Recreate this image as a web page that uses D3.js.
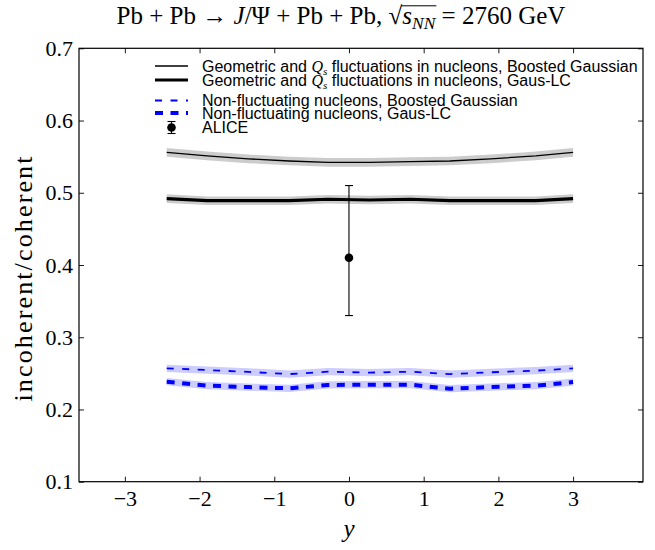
<!DOCTYPE html>
<html><head><meta charset="utf-8">
<script src="https://cdn.jsdelivr.net/npm/d3@7"></script>
<style>body{margin:0;background:#fff}</style>
</head><body><svg id="c" width="655" height="550"></svg>
<script>
// ---- data ----
const rapidity = [-2.44, -1.9, -1.35, -0.8, -0.28, 0.27, 0.82, 1.35, 1.9, 2.5, 3.0];
const geoBoosted = [0.556, 0.551, 0.547, 0.544, 0.542, 0.542, 0.543, 0.544, 0.547, 0.551, 0.556];
const geoGausLC  = [0.492, 0.489, 0.489, 0.489, 0.491, 0.490, 0.491, 0.489, 0.489, 0.489, 0.492];
const nonBoosted = [0.257, 0.2546, 0.252, 0.249, 0.2523, 0.251, 0.2523, 0.249, 0.2515, 0.2537, 0.257];
const nonGausLC  = [0.2385, 0.233, 0.231, 0.2293, 0.2339, 0.2343, 0.2343, 0.2288, 0.231, 0.233, 0.238];
const bandHalf   = [0.006, 0.006, 0.005, 0.005];
const aliceX = [0], aliceY = [0.41], aliceLo = [0.33], aliceHi = [0.51];
const xTicks = [-3, -2, -1, 0, 1, 2, 3];
const yTicks = [0.1, 0.2, 0.3, 0.4, 0.5, 0.6, 0.7];
const xDomain = [-3.614, 3.936];
const yDomain = [0.1, 0.7];
const legendLabels = [
  ["Geometric and ", "Q", "s", " fluctuations in nucleons, Boosted Gaussian"],
  ["Geometric and ", "Q", "s", " fluctuations in nucleons, Gaus-LC"],
  ["Non-fluctuating nucleons, Boosted Gaussian"],
  ["Non-fluctuating nucleons, Gaus-LC"],
  ["ALICE"]
];

// ---- layout ----
const L = 79, R = 643, T = 48.3, B = 481.7;
const svg = d3.select("#c");
const x = d3.scaleLinear().domain(xDomain).range([L, R]);
const y = d3.scaleLinear().domain(yDomain).range([B, T]);
const serif = "'Liberation Serif', 'Times New Roman', serif";
const sans = "'Liberation Sans', Arial, sans-serif";

const series = [
  {v: geoBoosted, color: "#000", band: "#cccccc", w: 1.3, dash: null},
  {v: geoGausLC,  color: "#000", band: "#cccccc", w: 3.2, dash: null},
  {v: nonBoosted, color: "#0000ff", band: "#ccccff", w: 1.8, dash: "7,8.5"},
  {v: nonGausLC,  color: "#0000ff", band: "#ccccff", w: 4, dash: "8,7.5"}
];

series.forEach((s, i) => {
  const pts = rapidity.map((r, j) => ({r, v: s.v[j]}));
  const area = d3.area().x(d => x(d.r)).y0(d => y(d.v - bandHalf[i])).y1(d => y(d.v + bandHalf[i]));
  svg.append("path").datum(pts).attr("d", area).attr("fill", s.band);
});
series.forEach((s, i) => {
  const pts = rapidity.map((r, j) => ({r, v: s.v[j]}));
  const line = d3.line().x(d => x(d.r)).y(d => y(d.v));
  svg.append("path").datum(pts).attr("d", line).attr("fill", "none")
    .attr("stroke", s.color).attr("stroke-width", s.w)
    .attr("stroke-dasharray", s.dash);
});

// ALICE
aliceX.forEach((ax, i) => {
  const g = svg.append("g").attr("stroke", "#000").attr("stroke-width", 1.1);
  g.append("line").attr("x1", x(ax)).attr("x2", x(ax)).attr("y1", y(aliceLo[i])).attr("y2", y(aliceHi[i]));
  g.append("line").attr("x1", x(ax) - 4).attr("x2", x(ax) + 4).attr("y1", y(aliceLo[i])).attr("y2", y(aliceLo[i]));
  g.append("line").attr("x1", x(ax) - 4).attr("x2", x(ax) + 4).attr("y1", y(aliceHi[i])).attr("y2", y(aliceHi[i]));
  svg.append("circle").attr("cx", x(ax)).attr("cy", y(aliceY[i])).attr("r", 4.3).attr("fill", "#000");
});

// axes
function styleAxis(g) {
  g.select(".domain").remove();
  g.selectAll(".tick line").attr("stroke", "#000").attr("stroke-width", 0.9);
  g.selectAll(".tick text").attr("font-family", serif).attr("font-size", 22).attr("fill", "#000");
}
svg.append("g").attr("transform", `translate(0,${B})`)
  .call(d3.axisBottom(x).tickValues(xTicks).tickFormat(d3.format("d")).tickSize(-5).tickPadding(9)).call(styleAxis);
svg.append("g").attr("transform", `translate(0,${T})`)
  .call(d3.axisTop(x).tickValues(xTicks).tickFormat("").tickSize(-5)).call(styleAxis);
svg.append("g").attr("transform", `translate(${L},0)`)
  .call(d3.axisLeft(y).tickValues(yTicks).tickFormat(d3.format(".1f")).tickSize(-5).tickPadding(6)).call(styleAxis);
svg.append("g").attr("transform", `translate(${R},0)`)
  .call(d3.axisRight(y).tickValues(yTicks).tickFormat("").tickSize(-5)).call(styleAxis);
svg.append("rect").attr("x", L).attr("y", T).attr("width", R - L).attr("height", B - T)
  .attr("fill", "none").attr("stroke", "#000").attr("stroke-width", 1.2);

// axis labels
svg.append("text").attr("x", x(0)).attr("y", 537).attr("text-anchor", "middle")
  .attr("font-family", serif).attr("font-style", "italic").attr("font-size", 25).text("y");
svg.append("text").attr("transform", "translate(32,279) rotate(-90)").attr("text-anchor", "middle")
  .attr("font-family", serif).attr("font-size", 26)
  .attr("textLength", 245).attr("lengthAdjust", "spacing").text("incoherent/coherent");

// title
const title = svg.append("text").attr("x", 341).attr("y", 24).attr("text-anchor", "middle")
  .attr("font-family", serif).attr("font-size", 25);
title.append("tspan").text("Pb + Pb \u2192 ");
title.append("tspan").attr("font-style", "italic").text("J");
title.append("tspan").text("/\u03A8 + Pb + Pb, \u221A");
const tS = title.append("tspan").attr("font-style", "italic").text("s");
const tNN = title.append("tspan").attr("font-style", "italic").attr("font-size", 17.5).attr("dy", 5).text("NN");
title.append("tspan").attr("dy", -5).text(" = 2760 GeV");
{
  const x0 = tS.node().getStartPositionOfChar(0).x;
  const x1 = tNN.node().getEndPositionOfChar(1).x;
  svg.append("line").attr("x1", x0 - 1).attr("x2", x1 + 1).attr("y1", 5.8).attr("y2", 5.8)
    .attr("stroke", "#000").attr("stroke-width", 1);
}

// legend
const legRowsY = [66, 80, 100.5, 113, 127.5];
const legX0 = 155, legX1 = 188, legTx = 202;
legendLabels.forEach((parts, i) => {
  const yy = legRowsY[i];
  if (i < 4) {
    const s = series[i];
    svg.append("line").attr("x1", legX0).attr("x2", legX1).attr("y1", yy).attr("y2", yy)
      .attr("stroke", s.color).attr("stroke-width", s.w).attr("stroke-dasharray", s.dash);
  } else {
    const cx = (legX0 + legX1) / 2;
    svg.append("line").attr("x1", cx).attr("x2", cx).attr("y1", yy - 6).attr("y2", yy + 6).attr("stroke", "#000").attr("stroke-width", 1.1);
    svg.append("line").attr("x1", cx - 4).attr("x2", cx + 4).attr("y1", yy - 6).attr("y2", yy - 6).attr("stroke", "#000").attr("stroke-width", 1.1);
    svg.append("line").attr("x1", cx - 4).attr("x2", cx + 4).attr("y1", yy + 6).attr("y2", yy + 6).attr("stroke", "#000").attr("stroke-width", 1.1);
    svg.append("circle").attr("cx", cx).attr("cy", yy).attr("r", 4.3).attr("fill", "#000");
  }
  const t = svg.append("text").attr("x", legTx).attr("y", yy + 5.5).attr("font-family", sans).attr("font-size", 16);
  if (parts.length === 1) { t.text(parts[0]); }
  else {
    t.append("tspan").text(parts[0]);
    t.append("tspan").attr("font-family", serif).attr("font-style", "italic").text(parts[1]);
    t.append("tspan").attr("font-family", serif).attr("font-style", "italic").attr("font-size", 11).attr("dy", 3).text(parts[2]);
    t.append("tspan").attr("dy", -3).text(parts[3]);
  }
});
</script>
</body></html>
